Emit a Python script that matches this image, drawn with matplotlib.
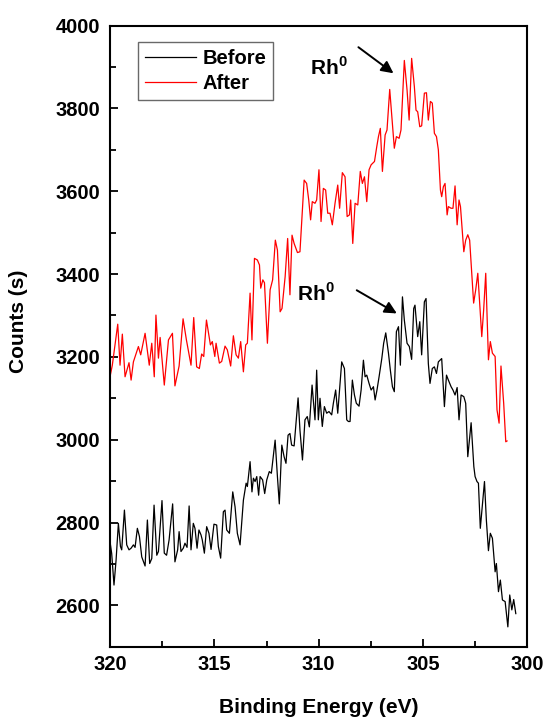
import matplotlib
matplotlib.use("Agg")
import matplotlib.pyplot as plt

# XPS Rh 3p region
energia_depois = [320.00, 319.89, 319.63, 319.52, 319.41, 319.28, 319.09, 318.99, 318.88, 318.64,
                  318.53, 318.32, 318.12, 318.00, 317.88, 317.80, 317.68, 317.60, 317.40, 317.20,
                  317.01, 316.89, 316.69, 316.50, 316.34, 316.12, 315.99, 315.85, 315.72, 315.61,
                  315.51, 315.38, 315.19, 315.10, 314.98, 314.92, 314.76, 314.65, 314.49, 314.38,
                  314.22, 314.09, 313.96, 313.85, 313.74, 313.61, 313.50, 313.42, 313.29, 313.20,
                  313.08, 312.94, 312.84, 312.78, 312.68, 312.60, 312.46, 312.33, 312.21, 312.08,
                  311.98, 311.85, 311.76, 311.61, 311.49, 311.38, 311.28, 311.18, 311.02, 310.90,
                  310.70, 310.58, 310.48, 310.39, 310.31, 310.18, 310.10, 309.99, 309.89, 309.78,
                  309.67, 309.57, 309.46, 309.35, 309.22, 309.09, 309.00, 308.87, 308.74, 308.64,
                  308.53, 308.47, 308.37, 308.26, 308.13, 308.01, 307.91, 307.81, 307.70, 307.59,
                  307.49, 307.33, 307.22, 307.14, 307.05, 306.95, 306.82, 306.73, 306.60, 306.47,
                  306.38, 306.28, 306.15, 306.06, 305.90, 305.77, 305.67, 305.55, 305.42, 305.34,
                  305.26, 305.16, 305.07, 304.94, 304.84, 304.75, 304.65, 304.56, 304.46, 304.36,
                  304.27, 304.17, 304.11, 304.03, 303.95, 303.85, 303.79, 303.66, 303.57, 303.47,
                  303.37, 303.28, 303.21, 303.05, 302.96, 302.86, 302.77, 302.67, 302.58, 302.48,
                  302.38, 302.19, 302.10, 302.00, 301.87, 301.78, 301.68, 301.55, 301.46, 301.36,
                  301.27, 301.14, 301.04, 300.98]
contagens_depois = [3152, 3180, 3279, 3180, 3255, 3152, 3186, 3144, 3188, 3225,
                    3205, 3257, 3180, 3233, 3152, 3301, 3197, 3247, 3132, 3241,
                    3257, 3130, 3178, 3292, 3241, 3180, 3295, 3176, 3172, 3207,
                    3201, 3289, 3229, 3237, 3201, 3233, 3185, 3189, 3226, 3217,
                    3178, 3251, 3205, 3197, 3237, 3164, 3229, 3233, 3354, 3241,
                    3438, 3434, 3422, 3366, 3386, 3379, 3233, 3362, 3386, 3482,
                    3458, 3309, 3317, 3394, 3486, 3350, 3494, 3474, 3452, 3454,
                    3627, 3619, 3579, 3531, 3575, 3571, 3579, 3652, 3527, 3607,
                    3603, 3547, 3547, 3519, 3571, 3615, 3559, 3645, 3635, 3539,
                    3543, 3579, 3474, 3571, 3567, 3648, 3619, 3635, 3575, 3652,
                    3664, 3672, 3708, 3732, 3752, 3648, 3736, 3748, 3846, 3764,
                    3704, 3732, 3728, 3748, 3916, 3845, 3772, 3921, 3853, 3796,
                    3792, 3756, 3758, 3837, 3838, 3772, 3817, 3813, 3740, 3732,
                    3700, 3603, 3587, 3611, 3619, 3543, 3563, 3559, 3559, 3613,
                    3519, 3579, 3563, 3454, 3482, 3495, 3482, 3402, 3330, 3362,
                    3402, 3249, 3313, 3402, 3193, 3237, 3209, 3201, 3072, 3040,
                    3178, 3088, 2995, 2997]

energia_antes = [320.00, 319.92, 319.81, 319.71, 319.60, 319.50, 319.44, 319.31, 319.20, 319.09,
                 318.99, 318.88, 318.80, 318.69, 318.59, 318.48, 318.32, 318.21, 318.10, 318.00,
                 317.89, 317.76, 317.68, 317.51, 317.40, 317.29, 317.17, 317.00, 316.89, 316.76,
                 316.69, 316.60, 316.49, 316.41, 316.31, 316.21, 316.12, 316.01, 315.93, 315.83,
                 315.74, 315.64, 315.58, 315.48, 315.37, 315.26, 315.16, 315.02, 314.89, 314.81,
                 314.70, 314.57, 314.49, 314.41, 314.28, 314.12, 314.01, 313.90, 313.77, 313.61,
                 313.48, 313.42, 313.29, 313.20, 313.13, 313.05, 312.97, 312.88, 312.81, 312.69,
                 312.59, 312.49, 312.37, 312.27, 312.09, 311.98, 311.89, 311.77, 311.66, 311.57,
                 311.47, 311.38, 311.30, 311.18, 310.99, 310.90, 310.78, 310.66, 310.55, 310.45,
                 310.32, 310.18, 310.10, 310.02, 309.94, 309.83, 309.73, 309.62, 309.51, 309.38,
                 309.30, 309.19, 309.09, 308.90, 308.77, 308.66, 308.58, 308.50, 308.39, 308.29,
                 308.20, 308.07, 307.97, 307.86, 307.78, 307.70, 307.59, 307.49, 307.38, 307.30,
                 307.21, 307.11, 306.98, 306.89, 306.79, 306.66, 306.57, 306.47, 306.38, 306.28,
                 306.18, 306.09, 305.99, 305.90, 305.77, 305.66, 305.55, 305.45, 305.39, 305.26,
                 305.16, 305.07, 304.94, 304.86, 304.75, 304.67, 304.56, 304.46, 304.36, 304.27,
                 304.11, 303.98, 303.88, 303.79, 303.66, 303.57, 303.47, 303.37, 303.28, 303.18,
                 303.05, 302.96, 302.86, 302.70, 302.57, 302.51, 302.42, 302.35, 302.26, 302.06,
                 301.97, 301.87, 301.78, 301.68, 301.55, 301.49, 301.39, 301.30, 301.20, 301.07,
                 300.94, 300.85, 300.75, 300.66, 300.56]
contagens_antes = [2754, 2725, 2649, 2709, 2798, 2742, 2734, 2830, 2746, 2734,
                   2738, 2746, 2740, 2786, 2766, 2717, 2695, 2806, 2701, 2713,
                   2842, 2721, 2730, 2853, 2726, 2721, 2758, 2845, 2705, 2734,
                   2778, 2730, 2738, 2750, 2740, 2840, 2734, 2798, 2786, 2738,
                   2782, 2770, 2758, 2726, 2790, 2774, 2735, 2796, 2794, 2742,
                   2714, 2826, 2830, 2782, 2774, 2874, 2838, 2774, 2746, 2854,
                   2895, 2887, 2947, 2874, 2907, 2899, 2911, 2866, 2911, 2903,
                   2870, 2903, 2923, 2919, 2999, 2911, 2845, 2987, 2959, 2943,
                   3011, 3015, 2987, 2985, 3101, 3023, 2951, 3048, 3056, 3031,
                   3132, 3048, 3168, 3048, 3100, 3032, 3080, 3064, 3068, 3060,
                   3088, 3120, 3064, 3188, 3172, 3048, 3044, 3044, 3144, 3108,
                   3088, 3081, 3120, 3192, 3152, 3156, 3136, 3120, 3128, 3096,
                   3120, 3152, 3196, 3233, 3258, 3209, 3168, 3128, 3116, 3261,
                   3273, 3180, 3345, 3289, 3233, 3225, 3194, 3317, 3325, 3249,
                   3285, 3205, 3333, 3341, 3184, 3136, 3172, 3176, 3160, 3188,
                   3196, 3080, 3156, 3144, 3128, 3120, 3108, 3126, 3048, 3108,
                   3104, 3088, 2959, 3041, 2935, 2911, 2899, 2895, 2786, 2899,
                   2806, 2732, 2774, 2762, 2681, 2701, 2633, 2661, 2613, 2609,
                   2548, 2625, 2589, 2614, 2580]

plt.rcParams['font.family'] = ['Liberation Sans', 'DejaVu Sans']
plt.rcParams['font.weight'] = 'bold'
plt.rcParams['mathtext.fontset'] = 'custom'
plt.rcParams['mathtext.rm'] = 'Liberation Sans:bold'
plt.rcParams['mathtext.bf'] = 'Liberation Sans:bold'

fig = plt.figure(figsize=(5.49, 7.17), dpi=100)
ax = fig.add_axes([0.2004, 0.098, 0.7604, 0.8662])

ax.plot(energia_antes, contagens_antes, color='black', lw=0.9, label='Before')
ax.plot(energia_depois, contagens_depois, color='red', lw=0.9, label='After')

ax.set_xlim(320, 300)
ax.set_ylim(2500, 4000)
ax.set_xticks([320, 315, 310, 305, 300])
ax.set_xticks([317.5, 312.5, 307.5, 302.5], minor=True)
ax.set_yticks([2600, 2800, 3000, 3200, 3400, 3600, 3800, 4000])
ax.set_yticks([2700, 2900, 3100, 3300, 3500, 3700, 3900], minor=True)
ax.tick_params(which='both', direction='in', width=1.3, labelsize=14.5)
ax.tick_params(which='major', length=6)
ax.tick_params(which='minor', length=4)
ax.tick_params(axis='y', pad=7)
ax.tick_params(axis='x', pad=6)
for s in ax.spines.values():
    s.set_linewidth(1.5)

ax.set_xlabel('Binding Energy (eV)', fontsize=15, fontweight='bold', va='top')
ax.xaxis.set_label_coords(0.5, -0.0826)
ax.set_ylabel('Counts (s)', fontsize=15, fontweight='bold')
ax.yaxis.set_label_coords(-0.196, 0.524)

# anotacoes Rh0
ax.text(310.42, 3881, r'Rh$^{\mathrm{0}}$', fontsize=15, fontweight='bold')
ax.annotate('', xy=(306.42, 3885), xytext=(308.1, 3948),
            arrowprops=dict(arrowstyle='-|>', color='black', lw=1.4, mutation_scale=18,
                            shrinkA=0, shrinkB=0))
ax.text(311.04, 3335, r'Rh$^{\mathrm{0}}$', fontsize=15, fontweight='bold')
ax.annotate('', xy=(306.26, 3305), xytext=(308.18, 3361),
            arrowprops=dict(arrowstyle='-|>', color='black', lw=1.4, mutation_scale=18,
                            shrinkA=0, shrinkB=0))

leg = ax.legend(loc='upper left', bbox_to_anchor=(0.067, 0.974), borderaxespad=0,
                fancybox=False, edgecolor='#444444', handlelength=2.55, handletextpad=0.3,
                borderpad=0.35, labelspacing=0.3, prop={'size': 14.5, 'weight': 'bold'})
leg.get_frame().set_linewidth(1.0)

plt.savefig('out.png', dpi=100)
